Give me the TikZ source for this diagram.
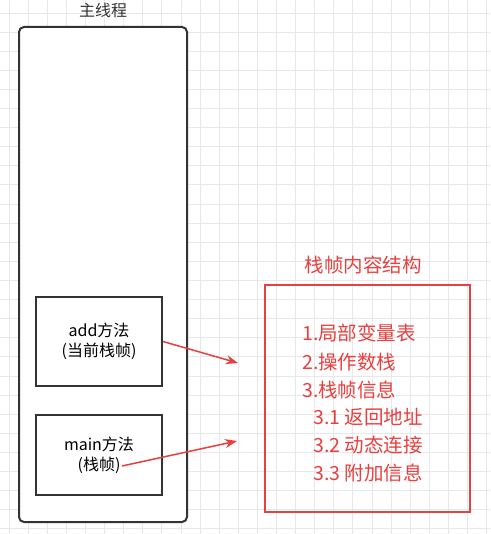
\documentclass[tikz,border=0pt]{standalone}
\usepackage{fontspec}
\setmainfont{Noto Sans CJK SC}
\usetikzlibrary{arrows.meta}

\definecolor{framered}{RGB}{232,64,64}
\definecolor{boxgray}{RGB}{51,51,51}

\tikzset{
  gridline/.style={color=black!9, line width=0.8pt},
  framebox/.style={draw=boxgray, line width=2pt, fill=white, minimum width=126pt, align=center, font=\fontsize{16}{20}\selectfont},
  redtext/.style={color=framered, anchor=west, font=\fontsize{19.5}{24}\selectfont, inner sep=0pt},
  pointer/.style={draw=framered, line width=1.5pt, -{Stealth[length=12pt,width=9pt]}}
}

\begin{document}
\begin{tikzpicture}[x=1pt, y=-1pt]
	\useasboundingbox[fill=white] (0,0) rectangle (490,534);
	% background grid
	\foreach \gx in {0,...,25} \draw[gridline] ({9+19.1*\gx},0) -- ({9+19.1*\gx},534);
	\foreach \gy in {0,...,27} \draw[gridline] (0,{13+19.1*\gy}) -- (490,{13+19.1*\gy});
	% main thread
	\node[font=\fontsize{16}{20}\selectfont, color=boxgray] (threadtitle) at (103,10) {主线程};
	\node[draw=boxgray, line width=2pt, fill=white, rounded corners=5pt, minimum width=168pt, minimum height=495pt] (thread) at (103,274.5) {};
	\node[framebox, minimum height=89pt] (addframe) at (99,341.5) {add方法\\(当前栈帧)};
	\node[framebox, minimum height=80pt] (mainframe) at (99,455) {main方法\\(栈帧)};
	% frame content
	\node[color=framered, font=\fontsize{19.5}{24}\selectfont] (contenttitle) at (363,265) {栈帧内容结构};
	\node[draw=framered, line width=2pt, minimum width=205pt, minimum height=227pt] (content) at (367.5,398.5) {};
	\node[redtext] (item1) at (302,333) {1.局部变量表};
	\node[redtext] (item2) at (302,362) {2.操作数栈};
	\node[redtext] (item3) at (302,390) {3.栈帧信息};
	\node[redtext] (item31) at (313,417) {3.1 返回地址};
	\node[redtext] (item32) at (313,445) {3.2 动态连接};
	\node[redtext] (item33) at (313,473) {3.3 附加信息};
	% pointers
	\coordinate (addtip) at (238,363);
	\coordinate (mainstart) at (122,466);
	\coordinate (maintip) at (237,441);
	\draw[pointer] (addframe.east) -- (addtip);
	\draw[pointer] (mainstart) -- (maintip);
\end{tikzpicture}
\end{document}
